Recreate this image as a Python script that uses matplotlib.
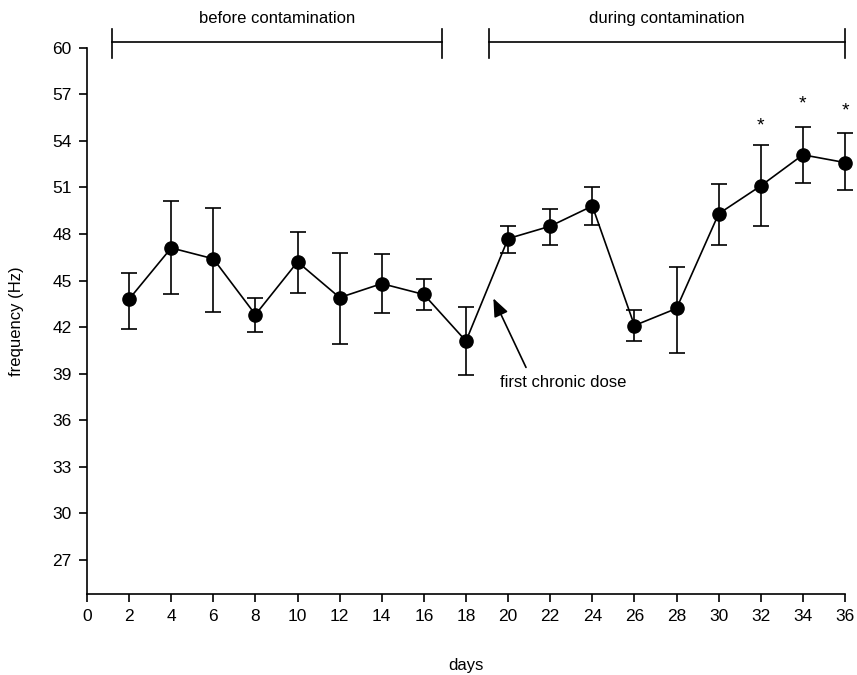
import numpy as np
import matplotlib
matplotlib.use('Agg')
import matplotlib.pyplot as plt

plt.rcParams['font.family'] = ['Liberation Sans', 'DejaVu Sans']

# data
days = [2, 4, 6, 8, 10, 12, 14, 16, 18, 20, 22, 24, 26, 28, 30, 32, 34, 36]
freq = [43.8, 47.1, 46.4, 42.8, 46.2, 43.9, 44.8, 44.1, 41.1, 47.7, 48.5, 49.8, 42.1, 43.2, 49.3, 51.1, 53.1, 52.6]
err_hi = [45.5, 50.1, 49.7, 43.9, 48.1, 46.8, 46.7, 45.1, 43.3, 48.5, 49.6, 51.0, 43.1, 45.9, 51.2, 53.7, 54.9, 54.5]
err_lo = [41.9, 44.1, 43.0, 41.7, 44.2, 40.9, 42.9, 43.1, 38.9, 46.8, 47.3, 48.6, 41.1, 40.3, 47.3, 48.5, 51.3, 50.8]
signif_days = [32, 34, 36]
star_y = [54.95, 56.4, 55.95]

yticks = np.arange(27, 61, 3)
xticks = np.arange(0, 37, 2)

fig = plt.figure(figsize=(8.57, 6.75), dpi=100)
ax = fig.add_axes([0.1015, 0.12, 0.8845, 0.8093])

freq = np.array(freq)
yerr = [freq - np.array(err_lo), np.array(err_hi) - freq]
eb = ax.errorbar(days, freq, yerr=yerr, color='black', lw=1.2, elinewidth=1.2,
                 capsize=6, capthick=1.2, marker='o', markersize=9.5, zorder=3)
for art in eb.get_children():
    art.set_clip_on(False)

for d, s in zip(signif_days, star_y):
    ax.text(d, s, '*', ha='center', va='center', fontsize=14)

# period brackets
def bracket(x0, x1, label):
    y = 60.35
    ax.plot([x0, x1], [y, y], color='black', lw=1.2, clip_on=False)
    for xx in (x0, x1):
        ax.plot([xx, xx], [59.35, 61.2], color='black', lw=1.2, clip_on=False)
    ax.text((x0 + x1) / 2, 61.4, label, ha='center', va='bottom', fontsize=12)

bracket(1.19, 16.86, 'before contamination')
bracket(19.09, 36, 'during contamination')

ax.annotate('', xy=(19.3, 43.85), xytext=(20.85, 39.4),
            arrowprops=dict(arrowstyle='-|>,head_width=0.45,head_length=1.1',
                            color='black', lw=1.2, shrinkA=0, shrinkB=0))
ax.text(19.6, 38.4, 'first chronic dose', ha='left', va='center', fontsize=12)

ax.set_xlim(0, 36)
ax.set_ylim(24.8, 60)
ax.set_xticks(xticks)
ax.set_yticks(yticks)
ax.tick_params(direction='out', length=6, width=1.2, labelsize=12.5, pad=5)
for sp in ['top', 'right']:
    ax.spines[sp].set_visible(False)
for sp in ['left', 'bottom']:
    ax.spines[sp].set_linewidth(1.2)

ax.set_xlabel('days', fontsize=12, labelpad=24)
ax.set_ylabel('frequency (Hz)', fontsize=12, labelpad=20)

fig.savefig('out.png', dpi=100)
